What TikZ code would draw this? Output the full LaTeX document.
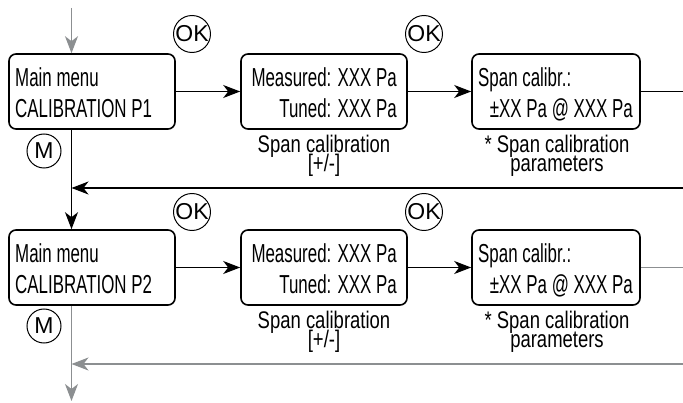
\documentclass[tikz,border=0pt]{standalone}
\usepackage{fontspec}
\setmainfont{Liberation Sans}
\newfontfamily\boxfont{Liberation Sans}[FakeStretch=0.65]
\newfontfamily\labfont{Liberation Sans}[FakeStretch=0.77]
\usetikzlibrary{arrows.meta}
\definecolor{flowgray}{RGB}{140,143,145}
\newcommand\mytightlines{\lineskiplimit=-30pt\relax\lineskip=0pt\relax}
\begin{document}
\begin{tikzpicture}[x=1pt,y=-1pt,
 menubox/.style={draw, line width=1.6pt, rounded corners=7pt, minimum height=75pt, inner sep=0pt},
 txt/.style={inner sep=0pt, font=\boxfont\fontsize{26}{31}\selectfont},
 lab/.style={inner sep=0pt, align=center, font=\labfont\fontsize{24}{19}\selectfont\mytightlines},
 keyc/.style={draw, circle, line width=1pt, minimum size=34pt, inner sep=0pt, font=\fontsize{23}{23}\selectfont},
 conn/.style={line width=1.2pt, -{Stealth[length=17pt,width=13pt,inset=5pt]}},
 plain/.style={line width=1.2pt},
]
\useasboundingbox (0,0) rectangle (683,403);

% ---------- row 1 ----------
\node[menubox, minimum width=166pt] (m1) at (92,91.5) {};
\node[menubox, minimum width=166pt] (s1) at (324,91.5) {};
\node[menubox, minimum width=168pt] (p1) at (556,91.5) {};
\node[txt, anchor=base west] (m1a) at (15,87) {Main menu};
\node[txt, anchor=base west] (m1b) at (15,118) {CALIBRATION P1};
\node[txt, anchor=base east] (s1a) at (397,87) {Measured: XXX Pa};
\node[txt, anchor=base east] (s1b) at (397,118) {Tuned: XXX Pa};
\node[txt, anchor=base west] (p1a) at (478,87) {Span calibr.:};
\node[txt, anchor=base east] (p1b) at (633,118) {±XX Pa @ XXX Pa};
\node[lab, anchor=base] (s1l) at (324,172) {Span calibration\\{[+/-]}};
\node[lab, anchor=base] (p1l) at (557,172) {* Span calibration\\parameters};
\node[keyc] (ok1) at (192,34) {OK};
\node[keyc] (ok2) at (424,34) {OK};
\node[keyc] (mk1) at (44,151) {M};

% ---------- row 2 ----------
\node[menubox, minimum width=166pt] (m2) at (92,267.5) {};
\node[menubox, minimum width=166pt] (s2) at (324,267.5) {};
\node[menubox, minimum width=168pt] (p2) at (556,267.5) {};
\node[txt, anchor=base west] (m2a) at (15,263) {Main menu};
\node[txt, anchor=base west] (m2b) at (15,294) {CALIBRATION P2};
\node[txt, anchor=base east] (s2a) at (397,263) {Measured: XXX Pa};
\node[txt, anchor=base east] (s2b) at (397,294) {Tuned: XXX Pa};
\node[txt, anchor=base west] (p2a) at (478,263) {Span calibr.:};
\node[txt, anchor=base east] (p2b) at (633,294) {±XX Pa @ XXX Pa};
\node[lab, anchor=base] (s2l) at (324,348) {Span calibration\\{[+/-]}};
\node[lab, anchor=base] (p2l) at (557,348) {* Span calibration\\parameters};
\node[keyc] (ok3) at (192,212) {OK};
\node[keyc] (ok4) at (424,212) {OK};
\node[keyc] (mk2) at (44,326) {M};

% ---------- connectors ----------
\coordinate (vx) at (71.5,0);
\coordinate (top) at (71.5,8);
\coordinate (bot) at (71.5,401);
\coordinate (edge) at (683,0);
\coordinate (ret1) at (683,188);
\coordinate (ret2) at (683,364);

\draw[conn, flowgray] (top) -- (top |- m1.north);
\draw[conn] (m1.east) -- (s1.west);
\draw[conn] (s1.east) -- (p1.west);
\draw[plain] (p1.east) -- (p1.east -| edge);
\draw[conn] (ret1) -- (ret1 -| vx);
\draw[conn] (m1.south -| vx) -- (m2.north -| vx);

\draw[conn] (m2.east) -- (s2.west);
\draw[conn] (s2.east) -- (p2.west);
\draw[plain, flowgray] (p2.east) -- (p2.east -| edge);
\draw[conn, flowgray] (ret2) -- (ret2 -| vx);
\draw[conn, flowgray] (m2.south -| vx) -- (bot);
\end{tikzpicture}
\end{document}
